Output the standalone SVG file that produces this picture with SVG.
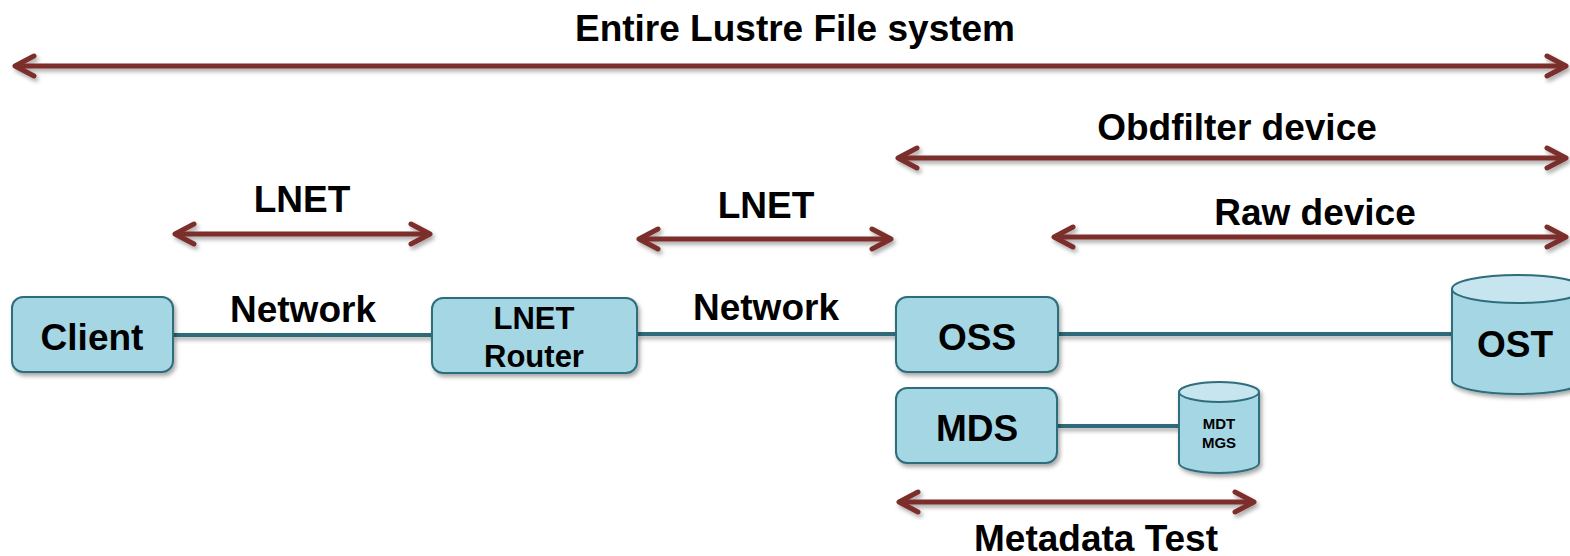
<svg xmlns="http://www.w3.org/2000/svg" width="1570" height="556" viewBox="0 0 1570 556">
<style>
.lbl{font-family:"Liberation Sans",Arial,sans-serif;font-weight:bold;fill:#000;text-anchor:middle}
.big{font-size:37px}
.box{fill:#a4d6e4;stroke:#2f6e7c;stroke-width:2}
.top{fill:#c6e5ee;stroke:#2f6e7c;stroke-width:2}
.net{stroke:#2e6b79;stroke-width:4;fill:none}
.span{stroke:#7c2f2c;stroke-width:5;fill:none;marker-start:url(#ah);marker-end:url(#ah)}
</style>
<defs>
<filter id="sh" x="-10%" y="-30%" width="120%" height="170%">
<feDropShadow dx="2" dy="3" stdDeviation="2" flood-color="#000" flood-opacity="0.35"/>
</filter>
<marker id="ah" markerUnits="userSpaceOnUse" viewBox="-24 -14 28 28" refX="0" refY="0" markerWidth="28" markerHeight="28" orient="auto-start-reverse">
<path d="M-19,-10 L0,0 L-19,10" fill="none" stroke="#7c2f2c" stroke-width="5" stroke-linecap="round" stroke-linejoin="round"/>
</marker>
</defs>
<g id="connectors">
<g filter="url(#sh)">
<line class="net" x1="173" y1="335" x2="432" y2="335"/>
<line class="net" x1="637" y1="334" x2="896" y2="334"/>
<line class="net" x1="1058" y1="334" x2="1452" y2="334"/>
<line class="net" x1="1058" y1="426" x2="1179" y2="426"/>
</g>
<g filter="url(#sh)">
<line class="span" x1="15" y1="66" x2="1566" y2="66"/>
<line class="span" x1="898" y1="158" x2="1566" y2="158"/>
<line class="span" x1="1054" y1="237" x2="1566" y2="237"/>
<line class="span" x1="175" y1="234" x2="430" y2="234"/>
<line class="span" x1="639" y1="239" x2="891" y2="239"/>
<line class="span" x1="899" y1="502" x2="1254" y2="502"/>
</g>
<text class="lbl big" x="795" y="41">Entire Lustre File system</text>
<text class="lbl big" x="1237" y="140">Obdfilter device</text>
<text class="lbl big" x="1315" y="225">Raw device</text>
<text class="lbl big" x="302" y="212">LNET</text>
<text class="lbl big" x="766" y="218">LNET</text>
<text class="lbl big" x="303" y="322">Network</text>
<text class="lbl big" x="766" y="320">Network</text>
<text class="lbl big" x="1096" y="551">Metadata Test</text>
</g>
<g id="client">
<rect class="box" x="12" y="297" width="161" height="75" rx="11" filter="url(#sh)"/>
<text class="lbl big" x="92" y="350">Client</text>
</g>
<g id="lnet-router">
<rect class="box" x="432" y="298" width="205" height="75" rx="11" filter="url(#sh)"/>
<text class="lbl" x="534" y="329" font-size="31">LNET</text>
<text class="lbl" x="534" y="367" font-size="31">Router</text>
</g>
<g id="oss">
<rect class="box" x="896" y="297" width="162" height="75" rx="11" filter="url(#sh)"/>
<text class="lbl big" x="977" y="350">OSS</text>
</g>
<g id="mds">
<rect class="box" x="896" y="388" width="161" height="75" rx="11" filter="url(#sh)"/>
<text class="lbl big" x="977" y="441">MDS</text>
</g>
<g id="mdt">
<g filter="url(#sh)">
<path class="box" d="M1179,392 L1179,463 A40,10 0 0 0 1259,463 L1259,392"/>
<ellipse class="top" cx="1219" cy="392" rx="40" ry="10"/>
</g>
<text class="lbl" x="1219" y="429" font-size="15">MDT</text>
<text class="lbl" x="1219" y="448" font-size="15">MGS</text>
</g>
<g id="ost">
<g filter="url(#sh)">
<path class="box" d="M1452,289 L1452,380 A66,14 0 0 0 1584,380 L1584,289"/>
<ellipse class="top" cx="1518" cy="289" rx="66" ry="14"/>
</g>
<text class="lbl big" x="1515" y="357">OST</text>
</g>
</svg>
